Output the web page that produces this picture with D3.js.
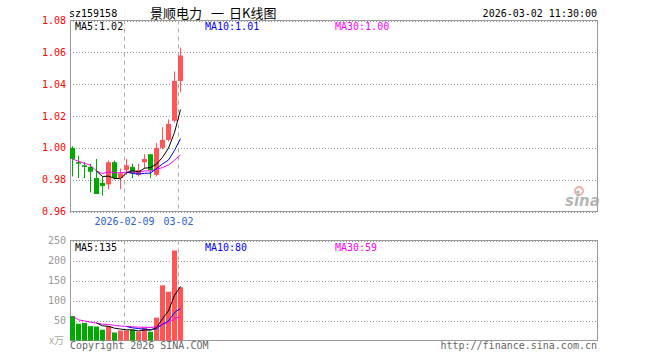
<!DOCTYPE html>
<html><head><meta charset="utf-8">
<script src="https://cdn.jsdelivr.net/npm/d3@7"></script>
<style>
html,body{margin:0;padding:0;background:#fff;}
svg{display:block;}
text{font-family:"DejaVu Sans Mono","Liberation Mono",monospace;font-size:10px;}
</style></head>
<body>
<script>
const dates = ["2026-01-27","2026-01-28","2026-01-29","2026-01-30","2026-02-02","2026-02-03","2026-02-04","2026-02-05","2026-02-06",
  "2026-02-09","2026-02-10","2026-02-11","2026-02-12","2026-02-13","2026-02-24","2026-02-25","2026-02-26","2026-02-27","2026-03-02"];
const opens  = [1.000,0.991,0.989,0.988,0.981,0.978,0.977,0.991,0.981,0.986,0.988,0.983,0.991,0.996,0.983,1.000,1.005,1.017,1.042];
const highs  = [1.001,0.995,0.991,0.990,0.993,0.982,0.992,0.992,0.987,0.993,0.990,0.990,0.996,0.996,1.003,1.013,1.018,1.048,1.063];
const lows   = [0.982,0.981,0.981,0.972,0.971,0.970,0.974,0.980,0.974,0.983,0.981,0.982,0.987,0.981,0.982,0.999,1.004,1.016,1.035];
const closes = [0.993,0.990,0.988,0.985,0.971,0.976,0.991,0.981,0.984,0.989,0.984,0.986,0.993,0.986,1.000,1.005,1.015,1.042,1.058];
const volumes = [61,42,44,36,35,27,36,20,25,25,27,22,33,22,57,138,122,225,133];
const priceTicks = [0.96,0.98,1.00,1.02,1.04,1.06,1.08];
const volTicks = [50,100,150,200,250];
const dateLabelIdx = [9,18];
const dateLabels = ["2026-02-09","03-02"];
const titleCode = "sz159158";
const titleParts = ["景顺电力","一","日K线图"];
const stamp = "2026-03-02 11:30:00";
const SLOTS = 88;

const W=660,H=360;
const svg=d3.select("body").append("svg").attr("width",W).attr("height",H);
const L=70,R=598;
const x=d3.scaleBand().domain(d3.range(SLOTS)).range([L,R]);
const yP=d3.scaleLinear().domain([0.96,1.08]).range([211.5,20.5]);
const yV=d3.scaleLinear().domain([0,250]).range([340.5,240.5]);
const GRID="#999", RED="#ff5555", GREEN="#00a800";
const MAC=["#000000","#0000ff","#ff00ff"];

function ma(arr,n,partial){
  return arr.map((v,i)=>{
    if(i<n-1 && !partial) return null;
    const s=arr.slice(Math.max(0,i-n+1),i+1);
    return d3.mean(s);
  });
}

// header
svg.append("text").attr("x",69).attr("y",17).text(titleCode);
const tx=[150,211,229];
titleParts.forEach((t,k)=>{
  svg.append("text").attr("x",tx[k]).attr("y",18).style("font-family","'Noto Sans CJK SC',sans-serif").style("font-size","13px").text(t);
});
svg.append("text").attr("x",597).attr("y",17).attr("text-anchor","end").text(stamp);

function panel(y, ticks, fmt, tickColor){
  const g=svg.append("g");
  ticks.forEach(t=>{
    g.append("line").attr("x1",L).attr("x2",R).attr("y1",Math.round(y(t))).attr("y2",Math.round(y(t)))
      .attr("stroke",GRID).attr("stroke-dasharray","1,2").attr("shape-rendering","crispEdges");
    g.append("text").attr("x",66).attr("y",y(t)).attr("dy","0.35em").attr("text-anchor","end").attr("fill",tickColor).text(fmt(t));
  });
  const [b,t]=y.range();
  dateLabelIdx.forEach(i=>{
    g.append("line").attr("x1",x(i)+0.5).attr("x2",x(i)+0.5).attr("y1",t).attr("y2",b)
      .attr("stroke","#aaa").attr("stroke-dasharray","4,4");
  });
  g.append("rect").attr("x",L+0.5).attr("y",t).attr("width",R-L-1).attr("height",b-t)
    .attr("fill","none").attr("stroke",GRID);
  return g;
}
panel(yP, priceTicks, d=>d.toFixed(2), "#ff0000");
panel(yV, volTicks, d=>String(d), "#999");
svg.append("text").attr("x",64).attr("y",344).attr("text-anchor","end").attr("fill","#aaa").style("font-family","'Noto Sans CJK SC',sans-serif").style("font-size","10px").text("x万");

// date labels
dateLabelIdx.forEach((i,k)=>{
  svg.append("text").attr("x",x(i)+0.5).attr("y",225).attr("text-anchor","middle").attr("fill","#2b62c8").text(dateLabels[k]);
});

// candles
const data=dates.map((d,i)=>({i,o:opens[i],h:highs[i],l:lows[i],c:closes[i],v:volumes[i]}));
const cg=svg.append("g");
data.forEach(d=>{
  const col=d.c>=d.o?RED:GREEN;
  const cx=x(d.i)+2.5;
  cg.append("line").attr("x1",cx).attr("x2",cx).attr("y1",yP(d.h)).attr("y2",yP(d.l)).attr("stroke",col);
  const top=yP(Math.max(d.o,d.c)), bot=yP(Math.min(d.o,d.c));
  cg.append("rect").attr("x",x(d.i)).attr("y",top).attr("width",5).attr("height",Math.max(1,bot-top)).attr("fill",col);
  cg.append("rect").attr("x",x(d.i)).attr("y",yV(d.v)).attr("width",5).attr("height",yV(0)-yV(d.v)).attr("fill",col);
});

// MAs
function drawMA(vals, y, color){
  const line=d3.line().defined(v=>v!=null).x((v,i)=>x(i)+2.5).y(v=>y(v));
  svg.append("path").attr("d",line(vals)).attr("fill","none").attr("stroke",color).attr("stroke-width",1);
}
const pMA=[ma(closes,5,false),ma(closes,10,false),ma(closes,30,true)];
const vMA=[ma(volumes,5,false),ma(volumes,10,false),ma(volumes,30,true)];
[2,1,0].forEach(k=>{drawMA(pMA[k],yP,MAC[k]);drawMA(vMA[k],yV,MAC[k]);});

// legends
const names=["MA5","MA10","MA30"], lx=[75,205,335];
names.forEach((n,k)=>{
  const pv=pMA[k][pMA[k].length-1], vv=vMA[k][vMA[k].length-1];
  svg.append("text").attr("x",lx[k]).attr("y",30).attr("fill",MAC[k]).text(n+":"+pv.toFixed(2));
  svg.append("text").attr("x",lx[k]).attr("y",250.5).attr("fill",MAC[k]).text(n+":"+Math.round(vv));
});

// footer
svg.append("text").attr("x",70).attr("y",349).attr("fill","#666").text("Copyright 2026 SINA.COM");
svg.append("text").attr("x",597).attr("y",349).attr("text-anchor","end").attr("fill","#666").text("http://finance.sina.com.cn");

// sina logo
const lg=svg.append("g").attr("opacity",0.85);
lg.append("circle").attr("cx",579).attr("cy",191).attr("r",4).attr("fill","none").attr("stroke","#f4a0a0").attr("stroke-width",2);
lg.append("circle").attr("cx",578).attr("cy",192).attr("r",1.5).attr("fill","#999");
lg.append("text").attr("x",565).attr("y",206).attr("fill","#aaa").style("font-family","'DejaVu Sans',sans-serif").style("font-size","15px").style("font-style","italic").style("font-weight","bold").text("sina");
</script>
</body></html>
